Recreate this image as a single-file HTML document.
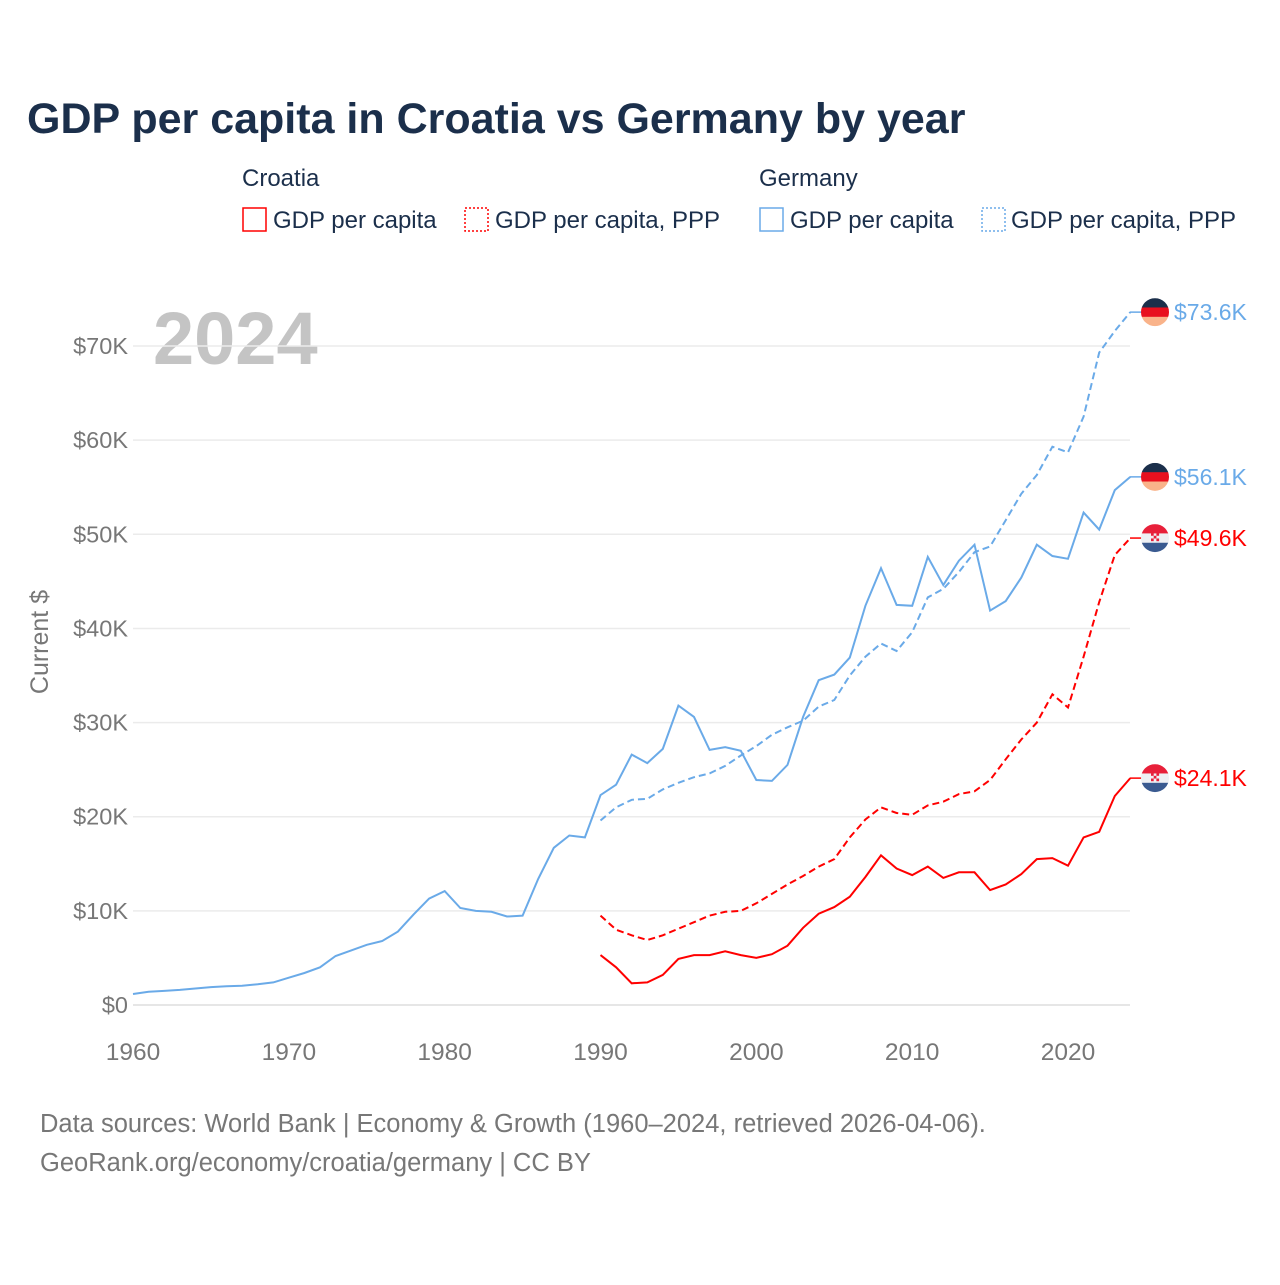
<!DOCTYPE html>
<html><head><meta charset="utf-8"><style>
body{margin:0;background:#fff;width:1280px;height:1280px;overflow:hidden;font-family:"Liberation Sans",sans-serif}
svg text{font-family:"Liberation Sans",sans-serif}
</style></head><body>
<svg id="c" width="1280" height="1280" viewBox="0 0 1280 1280">
<text x="27" y="133" font-size="43" font-weight="bold" fill="#1b2f4b">GDP per capita in Croatia vs Germany by year</text>
<g font-size="24" fill="#1b2f4b">
<text x="242" y="186">Croatia</text>
<text x="759" y="186">Germany</text>
<g><rect x="243" y="208" width="23" height="23" fill="none" stroke="#f00" stroke-width="1.5"/><text x="273" y="228">GDP per capita</text></g>
<g><rect x="465" y="208" width="23" height="23" fill="none" stroke="#f00" stroke-width="1.5" stroke-dasharray="2,2"/><text x="495" y="228">GDP per capita, PPP</text></g>
<g><rect x="760" y="208" width="23" height="23" fill="none" stroke="#6aaae8" stroke-width="1.5"/><text x="790" y="228">GDP per capita</text></g>
<g><rect x="982" y="208" width="23" height="23" fill="none" stroke="#6aaae8" stroke-width="1.5" stroke-dasharray="2,2"/><text x="1011" y="228">GDP per capita, PPP</text></g>
</g>
<text x="153" y="364" font-size="74" font-weight="bold" fill="#c4c4c4">2024</text>
<text transform="translate(48,642) rotate(-90)" text-anchor="middle" font-size="25" fill="#777">Current $</text>
<g id="grid"></g><g id="axes"></g><g id="series"></g><g id="labels"></g>
<text x="40" y="1132" font-size="25.5" fill="#777">Data sources: World Bank | Economy &amp; Growth (1960–2024, retrieved 2026-04-06).</text>
<text x="40" y="1171" font-size="25.5" fill="#777">GeoRank.org/economy/croatia/germany | CC BY</text>
</svg>
<script>
const yTicks=[0,10,20,30,40,50,60,70];
const xTicks=[1960,1970,1980,1990,2000,2010,2020];
const deGdp=[1.17,1.4,1.5,1.6,1.75,1.9,2.0,2.05,2.2,2.4,2.9,3.4,4.0,5.2,5.8,6.4,6.8,7.8,9.6,11.3,12.1,10.3,10.0,9.9,9.4,9.5,13.4,16.7,18.0,17.8,22.3,23.4,26.6,25.7,27.2,31.8,30.6,27.1,27.4,27.0,23.9,23.8,25.5,30.6,34.5,35.1,36.9,42.4,46.4,42.5,42.4,47.6,44.6,47.2,48.9,41.9,42.9,45.4,48.9,47.7,47.4,52.3,50.5,54.7,56.1];
const dePpp=[19.6,21.0,21.8,21.9,22.9,23.6,24.2,24.6,25.4,26.5,27.5,28.7,29.5,30.2,31.7,32.4,35.0,37.0,38.4,37.6,39.6,43.3,44.2,46.0,48.1,48.7,51.5,54.3,56.3,59.3,58.7,62.5,69.3,71.6,73.6];
const hrGdp=[5.3,4.0,2.3,2.4,3.2,4.9,5.3,5.3,5.7,5.3,5.0,5.4,6.3,8.2,9.7,10.4,11.5,13.6,15.9,14.5,13.8,14.7,13.5,14.1,14.1,12.2,12.8,13.9,15.5,15.6,14.8,17.8,18.4,22.2,24.1];
const hrPpp=[9.5,8.0,7.4,6.9,7.4,8.1,8.8,9.5,9.9,10.0,10.8,11.8,12.8,13.7,14.7,15.5,17.8,19.7,21.0,20.4,20.2,21.2,21.6,22.4,22.7,23.9,26.1,28.2,30.0,33.0,31.6,37.0,42.8,47.8,49.6];
const NS="http://www.w3.org/2000/svg";
const X=y=>133+(y-1960)*935/60;
const Y=v=>1005-v*9.414;
function mk(t,a,p){const e=document.createElementNS(NS,t);for(const k in a)e.setAttribute(k,a[k]);p.appendChild(e);return e;}
const grid=document.getElementById('grid'),axes=document.getElementById('axes'),ser=document.getElementById('series'),lab=document.getElementById('labels');
yTicks.forEach(v=>{
 const l=mk('line',{x1:133,x2:1130,y1:Y(v),y2:Y(v),stroke:v==0?'#ddd':'#ebebeb','stroke-width':1.5},grid);
 
 
 const t=mk('text',{x:128,y:Y(v)+8,'text-anchor':'end','font-size':23.5,fill:'#777'},axes);
 t.textContent=v==0?'$0':'$'+v+'K';
 
 
});
xTicks.forEach(v=>{
 const t=mk('text',{x:X(v),y:1060,'text-anchor':'middle','font-size':24.5,fill:'#777'},axes);
 t.textContent=v;
 
 
});
function line(arr,start,color,dash,name){
 const d=arr.map((v,i)=>(i?'L':'M')+X(start+i).toFixed(1)+','+Y(v).toFixed(1)).join('');
 const p=mk('path',{d:d,fill:'none',stroke:color,'stroke-width':2,'stroke-dasharray':dash||'none'},ser);
 
 
}
line(deGdp,1960,'#6aaae8',null,'germany-gdp-line');
line(dePpp,1990,'#6aaae8','7,4','germany-ppp-line');
line(hrGdp,1990,'#f00',null,'croatia-gdp-line');
line(hrPpp,1990,'#f00','7,4','croatia-ppp-line');
function endLabel(v,color,country,name){
 const y=Y(v);
 mk('line',{x1:1130,x2:1142,y1:y,y2:y,stroke:color,'stroke-width':1.5},lab);
 const g=mk('g',{},lab);
 
 
 const id='cl'+name;
 const cp=mk('clipPath',{id:id},g);mk('circle',{cx:1155,cy:y,r:14},cp);
 const cols=country=='de'?['#1b2f4b','#e8101e','#f9b38a']:['#e8203a','#eef0f4','#3a5a90'];
 cols.forEach((c,i)=>mk('rect',{x:1141,y:y-14+i*9.34,width:28,height:9.6,fill:c,'clip-path':'url(#'+id+')'},g));
 if(country=='hr'){for(let i=0;i<3;i++)for(let j=0;j<3;j++)if((i+j)%2==0)mk('rect',{x:1151+i*2.7,y:y-5+j*2.7,width:2.7,height:2.7,fill:'#e8203a'},g);}
 const t=mk('text',{x:1174,y:y+8,'font-size':23,fill:color},lab);
 t.textContent='$'+v.toFixed(1)+'K';
 
 
}
endLabel(dePpp[dePpp.length-1],'#6aaae8','de','germany-ppp');
endLabel(deGdp[deGdp.length-1],'#6aaae8','de','germany-gdp');
endLabel(hrPpp[hrPpp.length-1],'#f00','hr','croatia-ppp');
endLabel(hrGdp[hrGdp.length-1],'#f00','hr','croatia-gdp');
</script>
</body></html>
